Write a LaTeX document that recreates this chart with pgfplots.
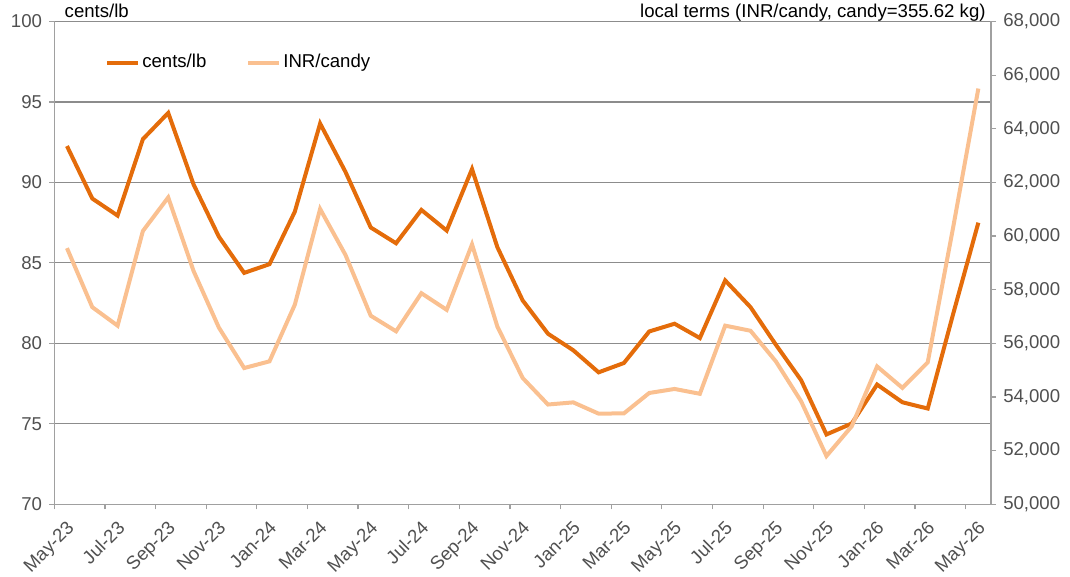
\documentclass[border=0pt]{standalone}
\usepackage{pgfplots}
\pgfplotsset{compat=1.18}
\usepackage{fontspec}
\setmainfont{Liberation Sans}
\definecolor{dk}{RGB}{228,108,10}
\definecolor{lt}{RGB}{250,192,144}
\definecolor{axgray}{RGB}{160,160,160}
\definecolor{gridgray}{RGB}{140,140,140}
\definecolor{lblgray}{RGB}{80,80,80}

\begin{document}
\begin{tikzpicture}
\pgfplotsset{
  every axis/.append style={
    scale only axis, width=468.35pt, height=241.4pt,
    xmin=-0.5, xmax=36.5,
    font=\fontsize{9.3}{11}\selectfont,
    /pgf/number format/assume math mode=true,
    tick align=outside,
    major tick length=2.6pt,
    tick style={axgray, line width=0.6pt},
    ticklabel style={text=lblgray},
    axis line style={axgray, line width=0.6pt},
  }
}
\begin{axis}[
  name=main,
  ymin=70, ymax=100, ytick={70,75,...,100},
  axis y line*=left, axis x line*=bottom,
  ymajorgrids, grid style={gridgray, line width=0.6pt},
  xtick={-0.05,1.95,...,35.95},
  xticklabels={May-23,Jul-23,Sep-23,Nov-23,Jan-24,Mar-24,May-24,Jul-24,Sep-24,Nov-24,Jan-25,Mar-25,May-25,Jul-25,Sep-25,Nov-25,Jan-26,Mar-26,May-26},
  xtick style={draw=none},
  xticklabel style={rotate=45, anchor=north east, inner sep=0pt},
  xticklabel shift=5pt,
  extra x ticks={-0.5,1.5,...,35.5},
  extra x tick labels={},
  extra x tick style={grid=none, xtick style={draw=axgray}},
  legend style={at={(rel axis cs:0.054,0.915)}, anchor=west, draw=none, fill=none,
    legend columns=2, inner sep=0pt, nodes={inner sep=1pt, text=black},
    /tikz/every even column/.append style={column sep=19pt}},
  legend image code/.code={\draw[#1] (0pt,0pt) -- (15.5pt,0pt);},
]
\addplot[dk, line width=2pt] coordinates {
(0,92.26) (1,89.0) (2,87.94) (3,92.69) (4,94.32) (5,89.88) (6,86.63) (7,84.38)
(8,84.92) (9,88.18) (10,93.66) (11,90.66) (12,87.2) (13,86.22) (14,88.29) (15,87.01)
(16,90.83) (17,85.98) (18,82.67) (19,80.60) (20,79.57) (21,78.20) (22,78.78) (23,80.74)
(24,81.22) (25,80.33) (26,83.91) (27,82.25) (28,79.92) (29,77.71) (30,74.34) (31,75.02)
(32,77.44) (33,76.34) (34,75.95) (35,81.8) (36,87.50)
};
\addlegendentry{cents/lb}
\addlegendimage{lt, line width=2pt}
\addlegendentry{INR/candy}
\end{axis}
\begin{axis}[
  ymin=50000, ymax=68000, ytick={50000,52000,...,68000},
  axis y line*=right, axis x line=none,
  scaled y ticks=false,
  /pgf/number format/1000 sep={,},
]
\addplot[lt, line width=2pt] coordinates {
(0,59550) (1,57350) (2,56660) (3,60190) (4,61440) (5,58700) (6,56590) (7,55080)
(8,55330) (9,57440) (10,61010) (11,59300) (12,57030) (13,56450) (14,57870) (15,57250)
(16,59690) (17,56630) (18,54710) (19,53720) (20,53800) (21,53380) (22,53390) (23,54150)
(24,54300) (25,54120) (26,56660) (27,56470) (28,55330) (29,53840) (30,51800) (31,52910)
(32,55140) (33,54340) (34,55290) (35,60300) (36,65500)
};
\end{axis}
\node[anchor=base west, inner sep=0pt, font=\fontsize{9.3}{11}\selectfont] at ([xshift=5pt,yshift=1.8pt]main.north west) {cents/lb};
\node[anchor=base east, inner sep=0pt, font=\fontsize{9.3}{11}\selectfont] at ([xshift=-2.5pt,yshift=1.8pt]main.north east) {local terms (INR/candy, candy=355.62 kg)};
\path ([xshift=-27.15pt,yshift=-36.35pt]main.south west) rectangle ([xshift=39.5pt,yshift=10.75pt]main.north east);
\end{tikzpicture}
\end{document}
